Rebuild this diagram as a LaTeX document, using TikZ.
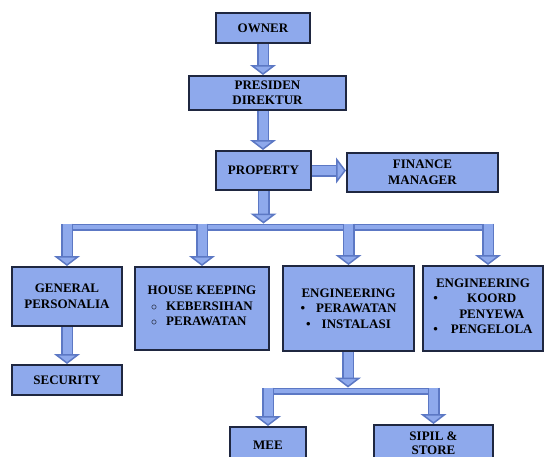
\documentclass[tikz,border=0pt]{standalone}
\usepackage{fontspec}
\setmainfont{Liberation Serif}
\usetikzlibrary{positioning, arrows.meta, calc}

\definecolor{boxfill}{HTML}{8EA9EC}
\definecolor{boxline}{HTML}{1F2740}
\definecolor{linkfill}{HTML}{8EA9EC}
\definecolor{linkedge}{HTML}{5C78C4}

\begin{document}
\begin{tikzpicture}[
    x=1pt, y=-1pt,
    font=\bfseries\fontsize{13}{15.5}\selectfont,
    blocktip/.tip={Triangle[length=10pt, width=26pt, fill=linkfill, line width=1.5pt]},
    unit/.style={rectangle, draw=boxline, line width=2pt, fill=boxfill, text=black, align=center, inner sep=0pt},
    link/.style={draw=linkedge, line width=1.5pt, double=linkfill, double distance=9pt, -blocktip},
    bus/.style={draw=linkedge, line width=1.2pt, double=linkfill, double distance=4.6pt},
]
\useasboundingbox (0,0) rectangle (544,456);

%==================== TOP CHAIN ====================

\node[unit, minimum width=94pt,  minimum height=30pt] (owner)    at (263,28)    {OWNER};
\node[unit, minimum width=157pt, minimum height=34pt] (presdir)  at (267.5,93)  {PRESIDEN\\DIREKTUR};
\node[unit, minimum width=95pt,  minimum height=39pt] (property) at (263.5,170.5) {PROPERTY};
\node[unit, minimum width=151pt, minimum height=39pt] (finance)  at (422.5,172.5) {FINANCE\\MANAGER};

%==================== DEPARTMENTS ====================

\node[unit, minimum width=110pt, minimum height=59pt] (general) at (67,296.5) {GENERAL\\PERSONALIA};
\node[unit, minimum width=134pt, minimum height=83pt] (housek)  at (202,308.5)
  {HOUSE KEEPING\\\begin{tabular}[t]{@{}c@{\hspace{9pt}}l@{}}$\circ$ & KEBERSIHAN\\$\circ$ & PERAWATAN\end{tabular}};
\node[unit, minimum width=131pt, minimum height=85pt] (eng1)    at (348.5,308.5)
  {ENGINEERING\\\textbullet\hspace{11pt}PERAWATAN\\\textbullet\hspace{11pt}INSTALASI};
\node[unit, minimum width=120pt, minimum height=85pt] (eng2)    at (483,308.5)
  {ENGINEERING\\\begin{tabular}[t]{@{}c@{\hspace{13pt}}c@{}}\textbullet & KOORD\\ & PENYEWA\\\textbullet & PENGELOLA\end{tabular}};

\node[unit, minimum width=110pt, minimum height=30pt] (security) at (67,380) {SECURITY};
\node[unit, minimum width=76pt,  minimum height=36pt] (mee)      at (268,445) {MEE};
\node[unit, minimum width=119pt, minimum height=36pt, font=\bfseries\fontsize{13}{13.5}\selectfont] (sipil) at (433.5,443) {SIPIL \&\\STORE};

%==================== BUS POINTS ====================

\coordinate (bus)    at (263,227);
\coordinate (bustop) at (263,223.5);
\coordinate (low)    at (348,391);
\coordinate (lowtop) at (348,387.5);

%==================== ARROWS ====================

\draw[link] (owner.south) -- (owner.south |- presdir.north);
\draw[link] (presdir.south -| owner.south) -- (property.north -| owner.south);
\draw[link] (property.east) -- (finance.west |- property.east);

% upper bus
\draw[bus] ([xshift=-6pt]general.north |- bus) -- ([xshift=11pt]eng2.north |- bus);
\draw[link] (property.south) -- (property.south |- bustop);
\draw[link] (general.north |- bustop) -- (general.north);
\draw[link] (housek.north |- bustop)  -- (housek.north);
\draw[link] (eng1.north |- bustop)    -- (eng1.north);
\draw[link] ([xshift=5pt]eng2.north |- bustop) -- ([xshift=5pt]eng2.north);

\draw[link] (general) -- (security);

% lower bus
\draw[bus] ([xshift=-6pt]mee.north |- low) -- ([xshift=6pt]sipil.north |- low);
\draw[link] (eng1.south -| low) -- (lowtop);
\draw[link] (mee.north |- lowtop)   -- (mee.north);
\draw[link] (sipil.north |- lowtop) -- (sipil.north);

\end{tikzpicture}
\end{document}
